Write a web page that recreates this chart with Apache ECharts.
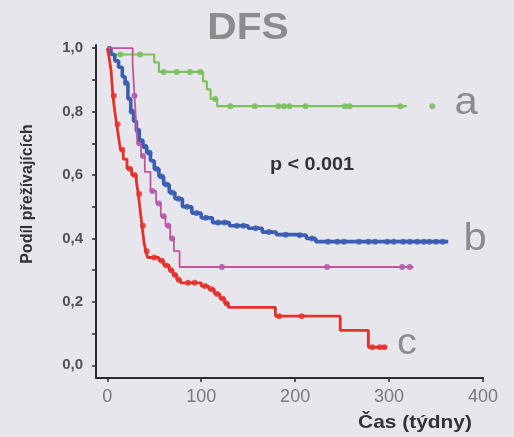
<!DOCTYPE html>
<html>
<head>
<meta charset="utf-8">
<script src="https://cdn.jsdelivr.net/npm/echarts@6/dist/echarts.min.js"></script>
<style>
  html, body { margin: 0; padding: 0; background: #e6e6ec; }
  #chart { width: 514px; height: 437px; }
</style>
</head>
<body>
<div id="chart"></div>
<script>
// tick labels
const xTicks = [0, 100, 200, 300, 400];
const yLabels = [0, 0.2, 0.4, 0.6, 0.8, 1.0];
const yTicks = [0, 0.1, 0.2, 0.3, 0.4, 0.5, 0.6, 0.7, 0.8, 0.9, 1.0];

// Kaplan-Meier steps [time (weeks), survival]
const curveA = [[0, 1], [4, 0.98], [50, 0.955], [55, 0.925], [102, 0.895], [106, 0.87], [110, 0.84], [117, 0.817], [319, 0.817]];
const curveB = [[0, 1], [4, 0.98], [8, 0.96], [12, 0.94], [16, 0.91], [19, 0.89], [22, 0.84], [25, 0.8], [28, 0.77], [31, 0.74],
  [34, 0.71], [38, 0.69], [42, 0.67], [46, 0.645], [50, 0.62], [55, 0.595], [60, 0.57], [66, 0.545], [72, 0.525], [80, 0.5],
  [90, 0.48], [100, 0.465], [112, 0.45], [130, 0.44], [150, 0.432], [165, 0.42], [180, 0.412], [200, 0.41], [212, 0.4],
  [222, 0.39], [363, 0.39]];
const curveP = [[0, 1], [27, 0.95], [28, 0.9], [29, 0.85], [30, 0.8], [31, 0.75], [32, 0.7], [36, 0.66], [40, 0.61], [46, 0.55],
  [52, 0.51], [57, 0.47], [62, 0.44], [67, 0.4], [71, 0.36], [77, 0.31], [326, 0.31]];
const curveC = [[0, 1], [2, 0.97], [4, 0.93], [5, 0.89], [6, 0.85], [8, 0.8], [10, 0.76], [12, 0.72], [14, 0.68], [17, 0.65],
  [21, 0.62], [26, 0.6], [31, 0.58], [33, 0.54], [35, 0.49], [37, 0.44], [39, 0.39], [41, 0.36], [43, 0.34], [55, 0.33],
  [60, 0.315], [66, 0.3], [70, 0.285], [74, 0.27], [78, 0.26], [100, 0.25], [108, 0.24], [114, 0.225], [120, 0.21],
  [125, 0.195], [129, 0.183], [179, 0.155], [248, 0.11], [278, 0.057], [298, 0.057]];

// censored observations
const censorA = [[14, 0.98], [35, 0.98], [60, 0.925], [74, 0.925], [88, 0.925], [99, 0.925], [115, 0.84], [131, 0.817],
  [157, 0.817], [182, 0.817], [188, 0.817], [194, 0.817], [211, 0.817], [253, 0.817], [258, 0.817], [312, 0.817], [346, 0.817]];
const censorB = [[20, 0.89], [26, 0.8], [33, 0.74], [40, 0.69], [45, 0.67], [52, 0.62], [58, 0.595], [63, 0.57], [69, 0.545],
  [76, 0.525], [85, 0.5], [95, 0.48], [105, 0.465], [118, 0.45], [125, 0.45], [138, 0.44], [145, 0.44], [158, 0.432],
  [172, 0.42], [190, 0.412], [205, 0.41], [218, 0.4], [235, 0.39], [245, 0.39], [252, 0.39], [268, 0.39], [278, 0.39],
  [285, 0.39], [298, 0.39], [305, 0.39], [315, 0.39], [322, 0.39], [330, 0.39], [337, 0.39], [343, 0.39], [350, 0.39], [357, 0.39]];
const censorP = [[29, 0.85], [34, 0.7], [38, 0.66], [48, 0.55], [55, 0.51], [60, 0.47], [65, 0.44], [69, 0.4], [122, 0.31],
  [234, 0.31], [314, 0.31], [322, 0.31]];
const censorC = [[7, 0.85], [11, 0.76], [16, 0.68], [24, 0.62], [29, 0.6], [34, 0.54], [38, 0.44], [42, 0.36], [50, 0.34],
  [58, 0.33], [63, 0.315], [68, 0.3], [72, 0.285], [76, 0.27], [86, 0.26], [93, 0.26], [104, 0.25], [111, 0.24], [117, 0.225],
  [123, 0.21], [127, 0.195], [183, 0.155], [207, 0.155], [282, 0.057], [290, 0.057], [295, 0.057]];

const groups = [
  { name: 'a', curve: curveA, censor: censorA, line: '#7cc15a', mark: '#6fb84e', width: 2.2 },
  { name: 'b', curve: curveB, censor: censorB, line: '#3b5db2', mark: '#3b5db2', width: 3.6 },
  { name: 'p', curve: curveP, censor: censorP, line: '#c2559c', mark: '#9e4fb2', width: 1.8 },
  { name: 'c', curve: curveC, censor: censorC, line: '#e5302b', mark: '#e5302b', width: 2.8 }
];

const series = [];
groups.forEach(g => {
  series.push({
    name: g.name, type: 'line', step: 'end', data: g.curve,
    showSymbol: false, lineStyle: { color: g.line, width: g.width }
  });
  series.push({
    name: g.name + '-c', type: 'scatter', data: g.censor,
    symbol: 'circle', symbolSize: 6, itemStyle: { color: g.mark }
  });
});

const txt = (x, y, text, font, fill, extra) => Object.assign({
  type: 'text', x: x, y: y, scaleX: 1.1,
  style: { text: text, font: font, fill: fill, align: 'center', verticalAlign: 'middle' }
}, extra || {});

const chart = echarts.init(document.getElementById('chart'));
chart.setOption({
  animation: false,
  backgroundColor: '#e6e6ec',
  grid: { left: 96, right: 31, top: 45, bottom: 59 },
  xAxis: {
    type: 'value', min: -12, max: 400,
    splitLine: { show: false },
    axisLine: { onZero: false, lineStyle: { color: '#2b2b2b', width: 2 } },
    axisTick: { customValues: xTicks, length: 4, lineStyle: { color: '#2b2b2b', width: 1.5 } },
    axisLabel: { customValues: xTicks, margin: 10, color: '#7a7a7a', fontSize: 18, fontFamily: 'Liberation Sans' }
  },
  yAxis: {
    type: 'value', min: -0.04, max: 1.01,
    splitLine: { show: false },
    axisLine: { show: true, onZero: false, lineStyle: { color: '#2b2b2b', width: 2 } },
    axisTick: { show: true, customValues: yTicks, length: 4, lineStyle: { color: '#2b2b2b', width: 1.5 } },
    axisLabel: {
      customValues: yLabels, margin: 13, color: '#525252', fontSize: 15, fontWeight: 'bold',
      fontFamily: 'Liberation Sans',
      formatter: v => v.toFixed(1).replace('.', ',')
    }
  },
  series: series,
  graphic: [
    txt(248, 29, 'DFS', 'bold 37px "Liberation Sans"', '#8c8c8c'),
    txt(312, 165, 'p < 0.001', 'bold 18px "Liberation Sans"', '#333'),
    txt(415, 423, 'Čas (týdny)', 'bold 19px "Liberation Sans"', '#333'),
    txt(27, 194, 'Podíl přežívajících', 'bold 16px "Liberation Sans"', '#333', { rotation: Math.PI / 2, scaleX: 1, scaleY: 1.05 }),
    txt(466, 104, 'a', '38px "Liberation Sans"', '#8c8c8c'),
    txt(475, 240, 'b', '38px "Liberation Sans"', '#8c8c8c'),
    txt(407, 344, 'c', '36px "Liberation Sans"', '#8c8c8c')
  ]
});
</script>
</body>
</html>
